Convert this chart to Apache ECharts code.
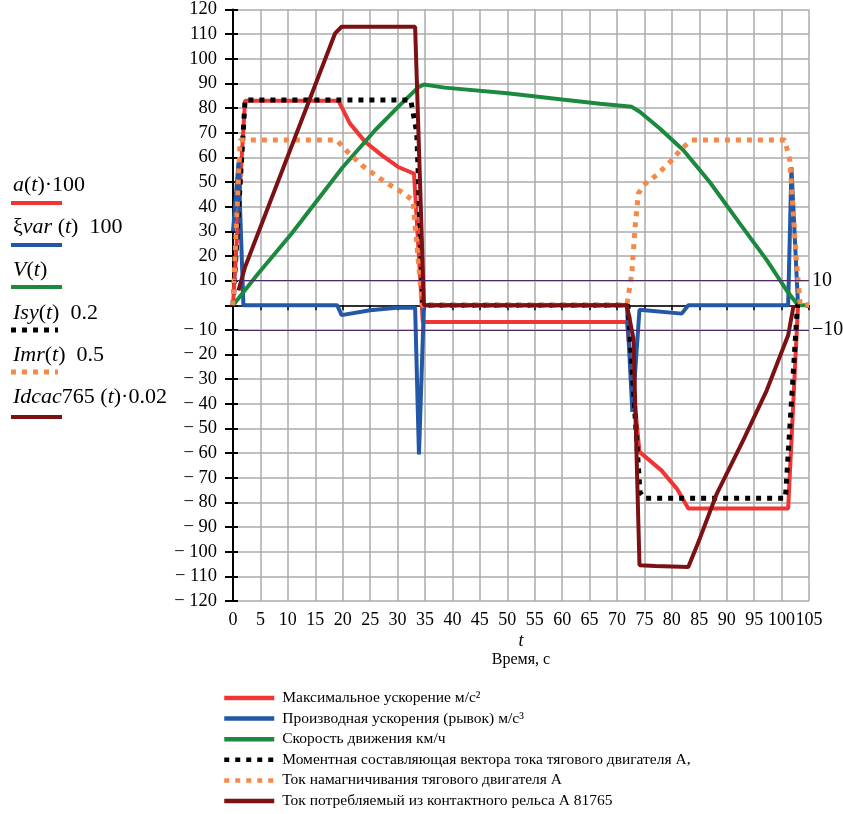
<!DOCTYPE html>
<html>
<head>
<meta charset="utf-8">
<script src="https://cdn.jsdelivr.net/npm/echarts@6/dist/echarts.min.js"></script>
<style>
  html, body { margin: 0; padding: 0; background: #fff; }
  #chart { width: 843px; height: 814px; }
</style>
</head>
<body>
<div id="chart"></div>
<script>
// time axis ticks (s) and reference levels
const xTicks = [0, 5, 10, 15, 20, 25, 30, 35, 40, 45, 50, 55, 60, 65, 70, 75, 80, 85, 90, 95, 100, 105]
const refLevels = [10, -10]

// a(t)*100 - red
const aT = [0, 2.2, 19.2, 21.3, 24.1, 27.1, 30.1, 33.0, 34.6, 71.8, 74.1, 78.1, 80.9, 83.0, 101.2, 103.0]
const aV = [0, 83, 83, 73.8, 66.3, 60.9, 56.1, 53.4, -6.8, -6.8, -59.5, -67, -74.4, -82.5, -82.5, 0]

// xi var(t)*100 - blue
const bT = [0, 1.0, 1.9, 19.0, 19.8, 25.0, 29.8, 33.2, 33.9, 34.8, 71.8, 72.8, 74.1, 81.8, 83.0, 101.2, 101.8, 103.0]
const bV = [30, 58, 0, 0, -4, -2, -1, -1, -60.5, 0, 0, -43.3, -1.8, -3.4, 0, 0, 56, 0]

// V(t) - green
const gT = [0, 4.6, 10.7, 20, 25.9, 30.1, 33.8, 34.8, 38.6, 50, 60, 66.9, 72.7, 74.2, 77.8, 82.1, 86.9, 92.4, 97.3, 100.9, 103, 105]
const gV = [0, 12.9, 29.1, 56, 71, 80.5, 88.5, 89.6, 88.3, 86, 83.5, 81.8, 80.5, 78.4, 71.7, 62.9, 50, 33.1, 18.3, 6.1, 0, 0]

// Isy(t)*0.2 - black dotted
const kT = [0, 2.2, 32.4, 33.5, 34.6, 72.0, 74.2, 75.0, 100.7, 102.9, 105]
const kV = [0, 83.3, 83.3, 70, 0, 0, -76, -78.3, -78.3, 0, 0]

// Imr(t)*0.5 - orange dotted
const oT = [0, 1.3, 18.9, 21, 23.5, 27.7, 30.7, 32.8, 34.5, 71.8, 72.7, 73.3, 73.9, 74.8, 77.2, 79.7, 81.8, 83.6, 100.6, 101.5, 102.1, 102.7, 103.4, 105]
const oV = [0, 67, 67, 62, 56.8, 50, 46, 42.6, 0, 0, 13, 31.8, 45.3, 48.7, 52.8, 58.2, 63.6, 67, 67, 58.8, 38.5, 18.3, 0, 0]

// Idcac765(t)*0.02 - dark red
const dT = [1.0, 2.2, 18.6, 19.8, 33.2, 34.8, 71.8, 73.0, 74.1, 77.0, 83.0, 85.1, 88.2, 93.0, 97.3, 101.2, 102.2]
const dV = [6, 15.5, 110.3, 113, 113, 0, 0, -13.5, -105.5, -105.8, -106.2, -94.6, -76.4, -54.8, -34.5, -12.2, 0]

const names = [
  'Максимальное ускорение м/с²',
  'Производная ускорения (рывок) м/с³',
  'Скорость движения км/ч',
  'Моментная составляющая вектора тока тягового двигателя А,',
  'Ток намагничивания тягового двигателя А',
  'Ток потребляемый из контактного рельса А 81765'
]

const zip = (t, v) => t.map((x, i) => [x, v[i]])
const serif = 'Liberation Serif'

const chart = echarts.init(document.getElementById('chart'))

function lineSeries(name, data, color, width, type, extra) {
  return Object.assign({
    name: name,
    type: 'line',
    data: data,
    symbol: 'none',
    animation: false,
    lineStyle: { color: color, width: width, type: type || 'solid', cap: 'butt' },
    itemStyle: { color: color }
  }, extra || {})
}

const fmtY = v => (v === 0 ? '' : v < 0 ? '\u2212 ' + Math.abs(v) : String(v))

const leftLegend = [
  { y: 185, line: 203, color: '#f03535', dash: null, text: '{i|a}{n|(}{i|t}{n|)·100}' },
  { y: 227, line: 245, color: '#2358a6', dash: null, text: '{n|ξ}{i|var}{n| (}{i|t}{n|)  100}' },
  { y: 270, line: 287, color: '#1b8a3e', dash: null, text: '{i|V}{n|(}{i|t}{n|)}' },
  { y: 313, line: 330, color: '#000000', dash: [5, 6], text: '{i|Isy}{n|(}{i|t}{n|)  0.2}' },
  { y: 355, line: 372, color: '#f5894a', dash: [5, 6], text: '{i|Imr}{n|(}{i|t}{n|)  0.5}' },
  { y: 397, line: 417, color: '#7b1113', dash: null, text: '{i|Idcac}{n|765 (}{i|t}{n|)·0.02}' }
]

const graphics = []
leftLegend.forEach(e => {
  graphics.push({
    type: 'text', x: 13, y: e.y,
    style: {
      text: e.text, fill: '#000', verticalAlign: 'middle',
      rich: {
        i: { fontFamily: serif, fontStyle: 'italic', fontSize: 22, fill: '#000' },
        n: { fontFamily: serif, fontSize: 22, fill: '#000' }
      }
    }
  })
  graphics.push({
    type: 'line',
    shape: { x1: 11, y1: e.line, x2: e.dash ? 58 : 62, y2: e.line },
    style: { stroke: e.color, lineWidth: e.dash ? 5 : 4, lineDash: e.dash || null }
  })
})
graphics.push({
  type: 'text', x: 521, y: 641,
  style: { text: 't', fontFamily: serif, fontStyle: 'italic', fontSize: 18, fill: '#000', align: 'center', verticalAlign: 'middle' }
})
graphics.push({
  type: 'text', x: 521, y: 660,
  style: { text: 'Время, с', fontFamily: serif, fontSize: 16, fill: '#000', align: 'center', verticalAlign: 'middle' }
})

chart.setOption({
  backgroundColor: '#fff',
  animation: false,
  grid: { left: 233, right: 34, top: 9, bottom: 213 },
  legend: {
    orient: 'vertical',
    left: 222,
    top: 690,
    height: 200,
    padding: 0,
    itemWidth: 50,
    itemHeight: 14,
    itemGap: 4.6,
    data: names,
    itemStyle: { color: 'rgba(0,0,0,0)', borderWidth: 0, borderColor: 'rgba(0,0,0,0)' },
    lineStyle: { width: 4.5 },
    textStyle: { fontFamily: serif, fontSize: 15.5, lineHeight: 14, color: '#000', padding: [0, 0, 0, 3] }
  },
  graphic: graphics,
  xAxis: [
    {
      type: 'value', min: 0, max: 105, interval: 5,
      axisLine: { show: false, onZero: false },
      axisTick: { show: false },
      axisLabel: {
        fontFamily: serif, fontSize: 18, color: '#000', margin: 10,
        customValues: xTicks
      },
      splitLine: { show: true, lineStyle: { color: '#ababab', width: 1.5 } }
    },
    {
      type: 'value', min: 0, max: 105, interval: 5,
      axisLine: { show: true, onZero: true, lineStyle: { color: '#000', width: 1.5 } },
      axisTick: { show: true, inside: true, length: 5, lineStyle: { color: '#000', width: 1.5 } },
      axisLabel: { show: false },
      splitLine: { show: false }
    }
  ],
  yAxis: [
    {
      type: 'value', min: -120, max: 120, interval: 10,
      axisLine: { show: true, lineStyle: { color: '#000', width: 2 } },
      axisTick: { show: true, length: 8, lineStyle: { color: '#000', width: 2 } },
      axisLabel: { fontFamily: serif, fontSize: 18.5, color: '#000', margin: 16, formatter: fmtY },
      splitLine: { show: true, lineStyle: { color: '#ababab', width: 1.5 } }
    },
    {
      type: 'value', min: -120, max: 120, interval: 10, position: 'left',
      axisLine: { show: false },
      axisTick: { show: true, inside: true, length: 5, lineStyle: { color: '#000', width: 2 } },
      axisLabel: { show: false },
      splitLine: { show: false }
    }
  ],
  series: [
    lineSeries(names[0], zip(aT, aV), '#f03535', 4, 'solid', {
      markLine: {
        silent: true, symbol: 'none',
        lineStyle: { color: '#4e2a62', width: 1, type: 'solid' },
        label: {
          show: true, position: 'end', fontFamily: serif, fontSize: 20, color: '#000', distance: 3,
          formatter: p => (p.value < 0 ? '\u2212' + Math.abs(p.value) : String(p.value))
        },
        data: refLevels.map(v => ({ yAxis: v }))
      }
    }),
    lineSeries(names[1], zip(bT, bV), '#2358a6', 4),
    lineSeries(names[2], zip(gT, gV), '#1b8a3e', 4),
    lineSeries(names[3], zip(kT, kV), '#000000', 5, [5, 6]),
    lineSeries(names[4], zip(oT, oV), '#f5894a', 5, [5, 6]),
    lineSeries(names[5], zip(dT, dV), '#7b1113', 4)
  ]
})
</script>
</body>
</html>
